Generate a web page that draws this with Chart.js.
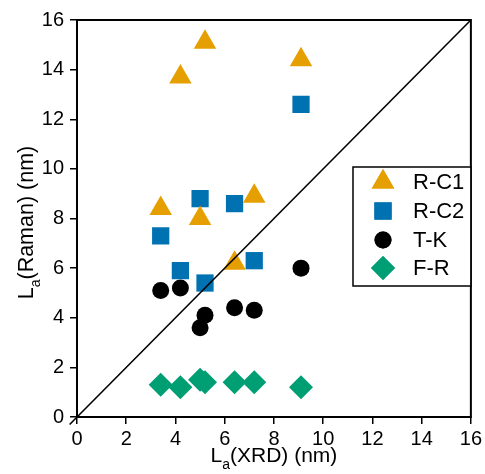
<!DOCTYPE html>
<html>
<head>
<meta charset="utf-8">
<script src="https://cdn.jsdelivr.net/npm/chart.js@4.4.0/dist/chart.umd.min.js"></script>
<style>
  html, body { margin: 0; padding: 0; background: #fff; }
  #wrap { width: 485px; height: 474px; }
</style>
</head>
<body>
<div id="wrap"><canvas id="la-chart" width="485" height="474"></canvas></div>
<script>
// La from XRD (nm) for the seven samples
const xrdValues = [3.4, 4.2, 5.0, 5.2, 6.4, 7.2, 9.1];
// La from Raman (nm), one array per method
const rc1Values = [8.4, 13.7, 8.0, 15.1, 6.2, 8.9, 14.4];
const rc2Values = [7.3, 5.9, 8.8, 5.4, 8.6, 6.3, 12.6];
const tkValues = [5.1, 5.2, 3.6, 4.1, 4.4, 4.3, 6.0];
const frValues = [1.3, 1.2, 1.5, 1.4, 1.4, 1.4, 1.2];
const seriesNames = ['R-C1', 'R-C2', 'T-K', 'F-R'];
// y = x reference line end points
const diagLine = [-0.3, 16];
const axisTicks = [0, 2, 4, 6, 8, 10, 12, 14, 16];

const FONT = '"Liberation Sans", Arial, sans-serif';

function pairs(ys) {
    return xrdValues.map((x, i) => ({ x: x, y: ys[i] }));
}

const markers = [
    { style: 'triangle', radius: 13, color: '#E69F00' },
    { style: 'rect', radius: 12.2, color: '#0072B2' },
    { style: 'circle', radius: 8.5, color: '#000000' },
    { style: 'rectRot', radius: 12, color: '#009E73' }
];

const seriesData = [rc1Values, rc2Values, tkValues, frValues];

const datasets = seriesData.map((vals, i) => ({
    label: seriesNames[i],
    data: pairs(vals),
    pointStyle: markers[i].style,
    pointRadius: markers[i].radius,
    pointHoverRadius: markers[i].radius,
    backgroundColor: markers[i].color,
    borderColor: markers[i].color,
    borderWidth: 0,
    showLine: false
}));

datasets.unshift({
    label: 'diag',
    data: diagLine.map(v => ({ x: v, y: v })),
    showLine: true,
    borderColor: '#000',
    borderWidth: 1.6,
    pointRadius: 0,
    clip: false
});

// draws "L" + subscript "a" + rest, starting at 0,0
function subTitle(ctx, rest, size) {
    let x = 0;
    ctx.font = size + 'px ' + FONT;
    ctx.fillText('L', x, 0);
    x += ctx.measureText('L').width;
    ctx.font = Math.round(size * 0.65) + 'px ' + FONT;
    ctx.fillText('a', x, 7);
    x += ctx.measureText('a').width;
    ctx.font = size + 'px ' + FONT;
    ctx.fillText(rest, x, 0);
    return x + ctx.measureText(rest).width;
}

// frame, legend and axis titles with subscripts
const decorations = {
    id: 'decorations',
    afterDraw(chart) {
        const ctx = chart.ctx;
        const a = chart.chartArea;
        ctx.save();
        ctx.strokeStyle = '#000';
        ctx.lineWidth = 2;
        ctx.strokeRect(a.left, a.top, a.right - a.left, a.bottom - a.top);

        // legend box
        const lx = 353, ly = 167, lw = a.right - 353, lh = 119;
        ctx.fillStyle = '#fff';
        ctx.fillRect(lx, ly, lw, lh);
        ctx.lineWidth = 1.5;
        ctx.strokeRect(lx, ly, lw, lh);
        const rows = [182, 211, 240, 268];
        ctx.font = '22px ' + FONT;
        ctx.textBaseline = 'middle';
        seriesNames.forEach((name, i) => {
            const m = markers[i];
            ctx.fillStyle = m.color;
            Chart.helpers.drawPoint(ctx, {
                pointStyle: m.style, radius: m.radius, borderWidth: 0
            }, 383, rows[i]);
            ctx.fill();
            ctx.fillStyle = '#000';
            ctx.fillText(name, 413, rows[i] + 1);
        });

        // x title, centred under the plot
        ctx.fillStyle = '#000';
        ctx.textBaseline = 'alphabetic';
        ctx.save();
        ctx.globalAlpha = 0;
        const w = subTitle(ctx, '(XRD) (nm)', 21);
        ctx.restore();
        ctx.save();
        ctx.translate((a.left + a.right) / 2 - w / 2, 462);
        subTitle(ctx, '(XRD) (nm)', 21);
        ctx.restore();

        // y title
        ctx.save();
        ctx.globalAlpha = 0;
        const h = subTitle(ctx, '(Raman) (nm)', 21.5);
        ctx.restore();
        ctx.translate(33, (a.top + a.bottom) / 2 + h / 2 + 4);
        ctx.rotate(-Math.PI / 2);
        subTitle(ctx, '(Raman) (nm)', 21.5);
        ctx.restore();
    }
};

function axisOptions(isX) {
    return {
        type: 'linear',
        min: 0,
        max: 16,
        afterBuildTicks(scale) {
            scale.ticks = axisTicks.map(v => ({ value: v }));
        },
        afterFit(scale) {
            if (isX) scale.height = 57; else scale.width = 77;
        },
        grid: {
            display: true,
            drawOnChartArea: false,
            drawTicks: true,
            tickLength: 7,
            color: '#000',
            lineWidth: 1.5
        },
        border: { display: true, color: '#000', width: 2 },
        ticks: {
            color: '#000',
            font: { family: FONT, size: 20 },
            padding: isX ? 3 : 6,
            maxRotation: 0,
            autoSkip: false
        }
    };
}

new Chart(document.getElementById('la-chart').getContext('2d'), {
    type: 'scatter',
    data: { datasets: datasets },
    options: {
        responsive: false,
        animation: false,
        layout: { padding: { top: 20, right: 12, left: 0, bottom: 0 } },
        plugins: {
            legend: { display: false },
            tooltip: { enabled: false }
        },
        scales: {
            x: axisOptions(true),
            y: axisOptions(false)
        }
    },
    plugins: [decorations]
});
</script>
</body>
</html>
